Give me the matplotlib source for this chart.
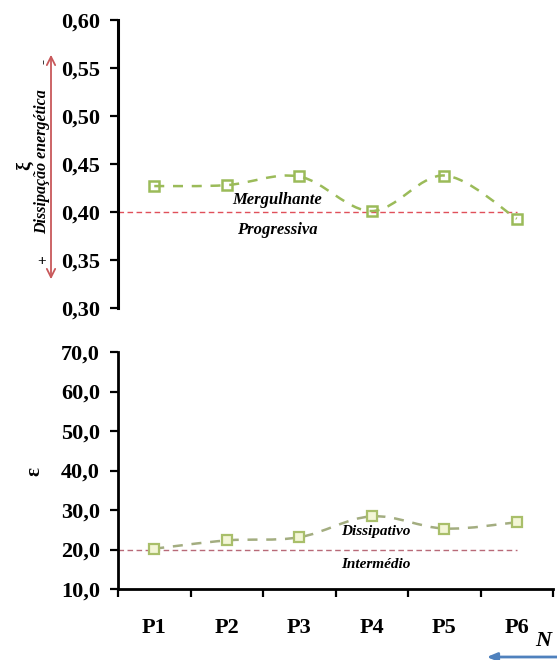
import matplotlib
matplotlib.use("Agg")
import matplotlib.pyplot as plt
from matplotlib.path import Path
from matplotlib.patches import PathPatch, FancyArrowPatch
import numpy as np

categories = ["P1", "P2", "P3", "P4", "P5", "P6"]
xi_values = [0.427, 0.428, 0.437, 0.401, 0.438, 0.393]
eps_values = [20.2, 22.3, 23.1, 28.4, 25.3, 26.9]
xi_threshold = 0.40
eps_threshold = 20.0
xi_ticks = [0.30, 0.35, 0.40, 0.45, 0.50, 0.55, 0.60]
xi_ticklabels = ["0,30", "0,35", "0,40", "0,45", "0,50", "0,55", "0,60"]
eps_ticks = [10, 20, 30, 40, 50, 60, 70]
eps_ticklabels = ["10,0", "20,0", "30,0", "40,0", "50,0", "60,0", "70,0"]

SERIF = "Liberation Serif"
W, H = 557, 660
fig = plt.figure(figsize=(W / 100, H / 100), dpi=100)


def smooth_path(xs, ys):
    pts = np.column_stack([xs, ys]).astype(float)
    n = len(pts)
    verts = [pts[0]]
    codes = [Path.MOVETO]
    for i in range(n - 1):
        p0 = pts[i - 1] if i > 0 else pts[i]
        p1 = pts[i]
        p2 = pts[i + 1]
        p3 = pts[i + 2] if i + 2 < n else pts[i + 1]
        c1 = p1 + (p2 - p0) / 6.0
        c2 = p2 - (p3 - p1) / 6.0
        verts += [c1, c2, p2]
        codes += [Path.CURVE4] * 3
    return Path(verts, codes)


x = np.arange(1, len(categories) + 1)
left = 118 / W
width = (553 - 118) / W

# ---------- top axes ----------
ax1 = fig.add_axes([left, 1 - 308 / H, width, (308 - 20) / H])
ax1.set_xlim(0.5, 6.5)
ax1.set_ylim(0.30, 0.60)
for s in ["top", "right", "bottom"]:
    ax1.spines[s].set_visible(False)
ax1.spines["left"].set_linewidth(2.2)
ax1.set_xticks([])
ax1.set_yticks(xi_ticks)
ax1.set_yticklabels(xi_ticklabels, fontfamily=SERIF, fontweight="bold", fontsize=16)
ax1.tick_params(axis="y", direction="out", length=6, width=1.6, pad=7)

ax1.plot([0.5, 6.0], [xi_threshold, xi_threshold], color="#e0505a", lw=1.0,
         linestyle=(0, (4, 2.5)), zorder=2)
ax1.add_patch(PathPatch(smooth_path(x, xi_values), facecolor="none",
                        edgecolor="#9bbb59", lw=1.8, linestyle=(0, (4, 3.5)), zorder=3))
ax1.plot(x, xi_values, linestyle="none", marker="s", markersize=7.5,
         mfc="none", mec="#9bbb59", mew=1.8, zorder=4)
ax1.text(2.7, 0.4125, "Mergulhante", ha="center", va="center", fontfamily=SERIF,
         fontweight="bold", style="italic", fontsize=12)
ax1.text(2.7, 0.3815, "Progressiva", ha="center", va="center", fontfamily=SERIF,
         fontweight="bold", style="italic", fontsize=12)

# y-label decorations
fig.text(25 / W, 1 - 166 / H, "ξ", rotation=90, ha="center", va="center",
         fontfamily=SERIF, fontweight="bold", fontsize=14)
fig.text(42 / W, 1 - 162 / H, "Dissipação energética", rotation=90, ha="center",
         va="center", fontfamily=SERIF, fontweight="bold", style="italic", fontsize=11.5)
fig.text(44 / W, 1 - 62 / H, "-", rotation=90, ha="center", va="center",
         fontfamily=SERIF, fontweight="bold", fontsize=11)
fig.text(42 / W, 1 - 262 / H, "+", ha="center", va="center",
         fontfamily=SERIF, fontweight="bold", fontsize=11)
fig.patches.append(FancyArrowPatch((51 / W, 1 - 282 / H), (51 / W, 1 - 52 / H),
                                   transform=fig.transFigure, arrowstyle="<->,head_length=6,head_width=3",
                                   color="#c8585a", lw=1.3))

# ---------- bottom axes ----------
ax2 = fig.add_axes([left, 1 - 589 / H, width, (589 - 352) / H])
ax2.set_xlim(0.5, 6.5)
ax2.set_ylim(10, 70)
for s in ["top", "right"]:
    ax2.spines[s].set_visible(False)
ax2.spines["left"].set_linewidth(2.0)
ax2.spines["bottom"].set_linewidth(2.0)
ax2.set_yticks(eps_ticks)
ax2.set_yticklabels(eps_ticklabels, fontfamily=SERIF, fontweight="bold", fontsize=16)
ax2.tick_params(axis="y", direction="out", length=6, width=1.6, pad=7)
ax2.set_xticks(np.arange(0.5, 7.0, 1.0))
ax2.set_xticklabels([])
ax2.set_xticks(x, minor=True)
ax2.set_xticklabels(categories, minor=True, fontfamily=SERIF, fontweight="bold", fontsize=16)
ax2.tick_params(axis="x", which="major", direction="out", length=6, width=1.6)
ax2.tick_params(axis="x", which="minor", length=0, pad=21)

ax2.plot([0.5, 6.0], [eps_threshold, eps_threshold], color="#b86a78", lw=1.0,
         linestyle=(0, (4, 2.5)), zorder=2)
ax2.add_patch(PathPatch(smooth_path(x, eps_values), facecolor="none",
                        edgecolor="#a3ad80", lw=1.8, linestyle=(0, (4, 3.5)), zorder=3))
ax2.plot(x, eps_values, linestyle="none", marker="s", markersize=7.5,
         mfc="#f3f6d6", mec="#a9bf6a", mew=1.6, zorder=4)
ax2.text(4.05, 24.5, "Dissipativo", ha="center", va="center", fontfamily=SERIF,
         fontweight="bold", style="italic", fontsize=11)
ax2.text(4.05, 16.2, "Intermédio", ha="center", va="center", fontfamily=SERIF,
         fontweight="bold", style="italic", fontsize=11)

fig.text(34 / W, 1 - 472 / H, "ε", rotation=90, ha="center", va="center",
         fontfamily=SERIF, fontweight="bold", fontsize=15)
fig.text(543 / W, 1 - 641 / H, "N", ha="center", va="center",
         fontfamily=SERIF, fontweight="bold", style="italic", fontsize=16)
fig.patches.append(FancyArrowPatch((560 / W, 1 - 657 / H), (484 / W, 1 - 657 / H),
                                   transform=fig.transFigure, arrowstyle="-|>,head_length=6,head_width=2.5",
                                   color="#4f81bd", lw=2.0))

fig.savefig("out.png", dpi=100)
